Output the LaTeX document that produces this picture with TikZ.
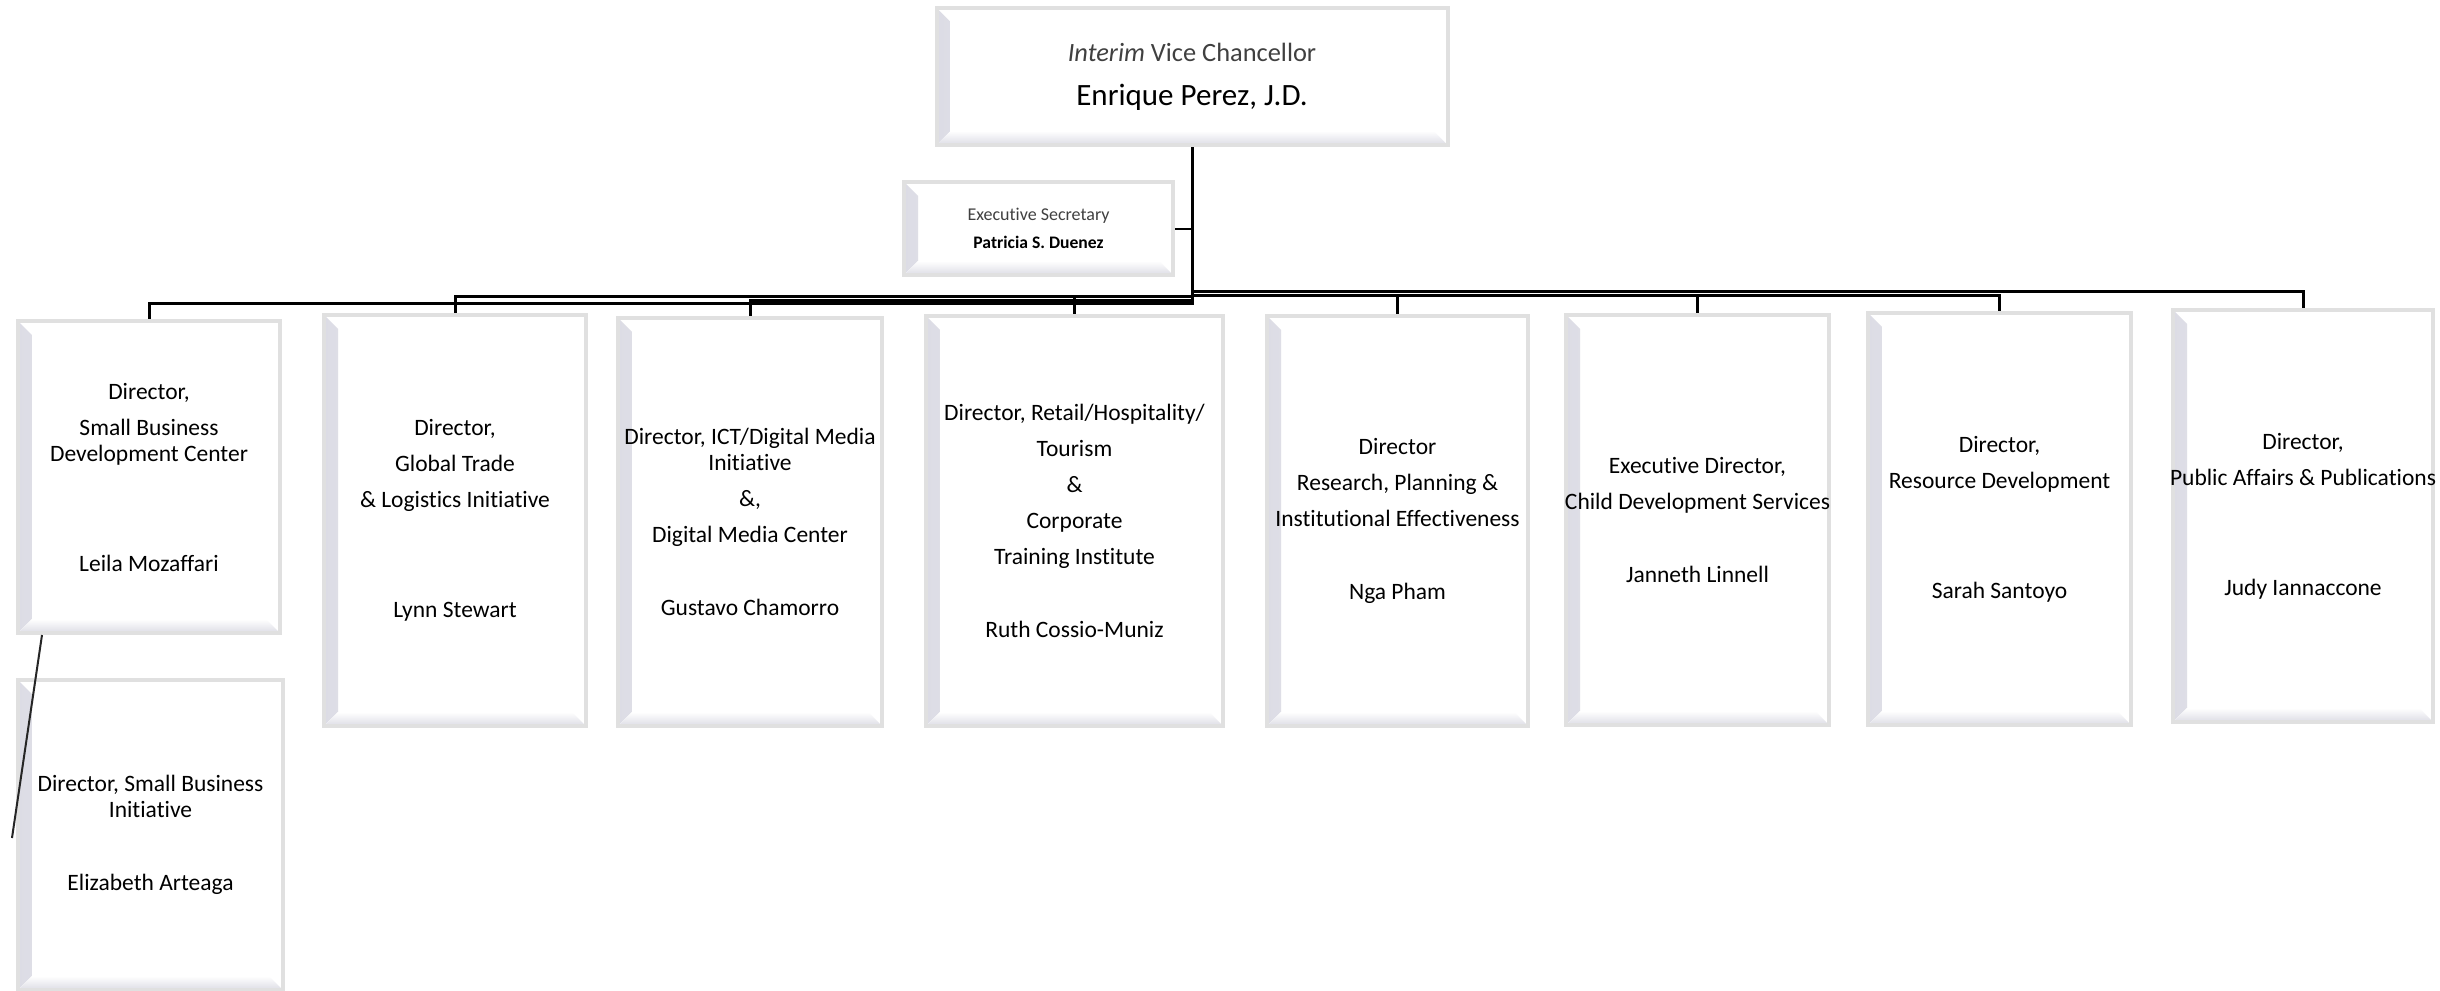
\documentclass[tikz,border=0pt]{standalone}
\usepackage{fontspec}
\setmainfont{Carlito}[Ligatures=NoCommon]
\usetikzlibrary{positioning}
\usetikzlibrary{calc}
\definecolor{bRim}{HTML}{E0E0E0}
\definecolor{bBevel}{HTML}{DCDCE5}
\definecolor{dGray}{HTML}{404040}

\begin{document}
\begin{tikzpicture}[
    x=0.5pt, y=-0.5pt,
    orgbox/.style = {draw=bRim, line width=2pt, fill=white, inner sep=0pt,
      path picture={
        \fill[left color=bBevel, right color=white]
          (path picture bounding box.south west) -- (path picture bounding box.north west)
          -- ([shift={(7pt,-7pt)}]path picture bounding box.north west)
          -- ([shift={(7pt,7pt)}]path picture bounding box.south west) -- cycle;
        \fill[bottom color=bBevel, top color=white]
          (path picture bounding box.south west) -- ([shift={(7pt,7pt)}]path picture bounding box.south west)
          -- ([shift={(-7pt,7pt)}]path picture bounding box.south east) -- (path picture bounding box.south east) -- cycle;
      }},
    boxtext/.style = {align=center, inner sep=0pt, font=\fontsize{11.75}{13}\selectfont},
    link/.style = {draw=black, line width=1.5pt},
    ]

    \useasboundingbox (0,0) rectangle (2440,990);

    % top of the chart
    \node[orgbox, minimum width=255.5pt, minimum height=68.5pt] (vc) at (1192,76.5) {};
    \node[boxtext, font=\fontsize{13.2}{22}\selectfont] (vc-txt) at (vc) {%
      \textcolor{dGray}{\textit{Interim} Vice Chancellor}\\
      {\fontsize{15.5}{22}\selectfont Enrique Perez, J.D.}};

    \node[orgbox, minimum width=134.5pt, minimum height=46.5pt] (sec) at (1038.5,228.5) {};
    \node[boxtext, font=\fontsize{9}{14}\selectfont] (sec-txt) at (sec) {%
      \textcolor{dGray}{Executive Secretary}\\
      {\fontsize{8.8}{14}\selectfont\bfseries Patricia S. Duenez}};

    % directors
    \node[orgbox, minimum width=131pt, minimum height=156pt] (sbdc) at (149,477) {};
    \node[orgbox, minimum width=131pt, minimum height=205.5pt] (trade) at (455,520.5) {};
    \node[orgbox, minimum width=132pt, minimum height=204pt] (ict) at (750,522) {};
    \node[orgbox, minimum width=148.5pt, minimum height=205pt] (retail) at (1074.5,521) {};
    \node[orgbox, minimum width=130.5pt, minimum height=205pt] (research) at (1397.5,521) {};
    \node[orgbox, minimum width=131.5pt, minimum height=205pt] (child) at (1697.5,520) {};
    \node[orgbox, minimum width=131.5pt, minimum height=206pt] (resource) at (1999.5,519) {};
    \node[orgbox, minimum width=130pt, minimum height=206pt] (publ) at (2303,516) {};
    \node[orgbox, minimum width=132.5pt, minimum height=155pt] (sbi) at (150.5,835) {};

    \node[boxtext] (sbdc-txt) at (sbdc) {Director,\\[5pt] Small Business\\ Development Center\\[42pt] Leila Mozaffari};
    \node[boxtext] (trade-txt) at (trade) {Director,\\[5pt] Global Trade\\[5pt] \& Logistics Initiative\\[42pt] Lynn Stewart};
    \node[boxtext] (ict-txt) at (ict) {Director, ICT/Digital Media\\ Initiative\\[5pt] \&,\\[5pt] Digital Media Center\\[23.5pt] Gustavo Chamorro};
    \node[boxtext] (retail-txt) at (retail) {Director, Retail/Hospitality/\\[5pt] Tourism\\[5pt] \&\\[5pt] Corporate\\[5pt] Training Institute\\[23.5pt] Ruth Cossio-Muniz};
    \node[boxtext] (research-txt) at (research) {Director\\[5pt] Research, Planning \&\\[5pt] Institutional Effectiveness\\[23.5pt] Nga Pham};
    \node[boxtext] (child-txt) at (child) {Executive Director,\\[5pt] Child Development Services\\[23.5pt] Janneth Linnell};
    \node[boxtext] (resource-txt) at (resource) {Director,\\[5pt] Resource Development\\[42pt] Sarah Santoyo};
    \node[boxtext] (publ-txt) at (publ) {Director,\\[5pt] Public Affairs \& Publications\\[42pt] Judy Iannaccone};
    \node[boxtext] (sbi-txt) at (sbi) {Director, Small Business\\ Initiative\\[23.5pt] Elizabeth Arteaga};

    % vice chancellor -> directors
    \foreach \b/\lvl in {sbdc/303, trade/296, ict/300, retail/296, research/295, child/295, resource/295, publ/291}
      \draw[link] (vc.south) |- (\b.north |- 0,\lvl) -- (\b.north);

    % secretary -> trunk
    \draw[link, line width=1pt] (sec.east) -- (sec.east -| vc.south);

    % small business center -> initiative
    \coordinate (sbi-tail) at (12,838);
    \draw[line width=1pt, black!85] ([xshift=13pt]sbdc.south west) -- (sbi-tail);

\end{tikzpicture}
\end{document}
